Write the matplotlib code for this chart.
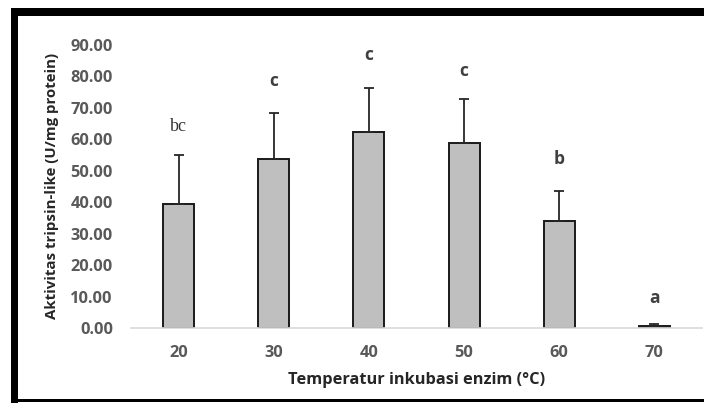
import matplotlib
matplotlib.use("Agg")
import matplotlib.pyplot as plt
from matplotlib.patches import Rectangle

categories = ["20", "30", "40", "50", "60", "70"]
values = [39.3, 53.8, 62.3, 58.9, 34.0, 0.7]
errors = [15.6, 14.5, 13.9, 13.8, 9.5, 0.6]
letters = ["bc", "c", "c", "c", "b", "a"]
letter_y = [64.2, 78.6, 86.8, 81.8, 53.7, 9.5]
yticks = [0, 10, 20, 30, 40, 50, 60, 70, 80, 90]

W, H = 704, 403
fig = plt.figure(figsize=(W / 100, H / 100), dpi=100)
fig.patch.set_facecolor("white")

# outer black frame (cropped at right/bottom)
def frect(x0, y0, x1, y1, color="black"):
    fig.patches.append(Rectangle((x0 / W, 1 - y1 / H), (x1 - x0) / W, (y1 - y0) / H,
                                 transform=fig.transFigure, facecolor=color,
                                 edgecolor="none", zorder=0))

frect(11, 8, 704, 16)
frect(11, 8, 18, 403)
frect(11, 399, 704, 402)

ax = fig.add_axes([131 / W, 1 - 328 / H, (702 - 131) / W, (328 - 45) / H])
ax.set_facecolor("none")
x = list(range(len(categories)))
ax.bar(x, values, width=0.326, color="#bfbfbf", edgecolor="#1a1a1a", linewidth=1.4, zorder=2)
ax.errorbar(x, values, yerr=[[0] * len(errors), errors], fmt="none", ecolor="#262626",
            elinewidth=1.3, capsize=3.5, capthick=1.3, zorder=3)

for i, (lab, ly) in enumerate(zip(letters, letter_y)):
    if lab == "bc":
        ax.text(i, ly, lab, ha="center", va="center", fontsize=13,
                family="Liberation Serif", color="#333333")
    else:
        ax.text(i, ly, lab, ha="center", va="center", fontsize=12.5,
                family="Open Sans", fontweight="bold", color="#404040")

ax.set_xlim(-0.5, 5.5)
ax.set_ylim(0, 90)
ax.set_yticks(yticks)
ax.set_yticklabels([f"{v:.2f}" for v in yticks])
ax.set_xticks(x)
ax.set_xticklabels(categories)
for sp in ["top", "right", "left"]:
    ax.spines[sp].set_visible(False)
ax.spines["bottom"].set_color("#d9d9d9")
ax.spines["bottom"].set_linewidth(1.2)
ax.tick_params(axis="both", length=0, labelsize=11.8, labelcolor="#595959")
ax.tick_params(axis="y", pad=13)
ax.tick_params(axis="x", pad=12)
for lbl in ax.get_xticklabels() + ax.get_yticklabels():
    lbl.set_fontfamily("Open Sans")
    lbl.set_fontweight("bold")

fig.text(52 / W, 1 - 185.5 / H, "Aktivitas tripsin-like (U/mg protein)", rotation=90,
         ha="center", va="center", fontsize=10.8, family="Open Sans", fontweight="bold",
         color="#262626")
fig.text(416.5 / W, 1 - 380 / H, "Temperatur inkubasi enzim (°C)", ha="center", va="center",
         fontsize=11.8, family="Open Sans", fontweight="bold", color="#262626")

fig.savefig("out.png", dpi=100)
